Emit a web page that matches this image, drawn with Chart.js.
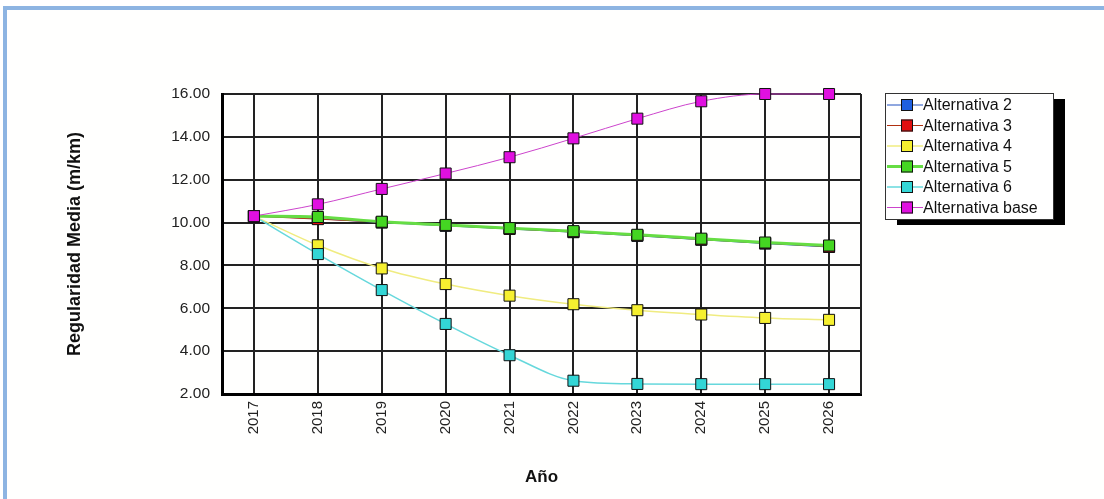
<!DOCTYPE html>
<html>
<head>
<meta charset="utf-8">
<script src="https://cdn.jsdelivr.net/npm/chart.js@4"></script>
<style>
  html, body { margin: 0; padding: 0; background: #fff; }
  #wrap { position: relative; width: 1104px; height: 499px; overflow: hidden; }
  #frame {
    position: absolute; left: 3px; top: 6px; width: 1200px; height: 600px;
    border-left: 4px solid #8db4e2; border-top: 4px solid #8db4e2;
    background: #fffffe;
  }
  #chart { position: absolute; left: 0; top: 0; }
</style>
</head>
<body>
<div id="wrap">
  <div id="frame"></div>
  <canvas id="chart" width="1104" height="499"></canvas>
</div>
<script>
// Años del periodo de análisis
const years = ['2017', '2018', '2019', '2020', '2021', '2022', '2023', '2024', '2025', '2026'];

// Regularidad media (m/km) por alternativa
const alt2 = [10.30, 10.18, 10.00, 9.85, 9.70, 9.55, 9.38, 9.20, 9.02, 8.86];
const alt3 = [10.30, 10.16, 10.02, 9.87, 9.71, 9.56, 9.40, 9.21, 9.04, 8.88];
const alt4 = [10.30, 8.94, 7.86, 7.13, 6.59, 6.19, 5.91, 5.71, 5.55, 5.46];
const alt5 = [10.30, 10.26, 10.04, 9.89, 9.74, 9.60, 9.43, 9.25, 9.07, 8.93];
const alt6 = [10.30, 8.53, 6.85, 5.27, 3.81, 2.62, 2.47, 2.46, 2.46, 2.46];
const altBase = [10.30, 10.85, 11.57, 12.29, 13.05, 13.93, 14.85, 15.66, 16.00, 16.00];

const seriesNames = ['Alternativa 2', 'Alternativa 3', 'Alternativa 4', 'Alternativa 5', 'Alternativa 6', 'Alternativa base'];
const seriesData = [alt2, alt3, alt4, alt5, alt6, altBase];
const markerColors = ['#1e5fe0', '#e01010', '#f6f030', '#44d622', '#33d6d6', '#e010e0'];
const lineColors = ['#2050c0', '#b03010', '#f0ec80', '#66dd44', '#66d8dc', '#cc44cc'];
const lineWidths = [1, 1, 1.5, 3, 1.5, 1];

const FONT = "'Liberation Sans', Arial, sans-serif";

// Marco derecho del área de trazado
function drawRightEdge(chart) {
    const {ctx, chartArea} = chart;
    ctx.save();
    ctx.strokeStyle = '#222';
    ctx.lineWidth = 2;
    ctx.beginPath();
    ctx.moveTo(chartArea.right, chartArea.top);
    ctx.lineTo(chartArea.right, chartArea.bottom);
    ctx.stroke();
    ctx.restore();
}
const frameRight = {
    id: 'frameRight',
    beforeDatasetsDraw(chart) { drawRightEdge(chart); }
};

// Leyenda con sombra negra
const boxLegend = {
    id: 'boxLegend',
    afterDraw(chart) {
        const ctx = chart.ctx;
        const x = 885, y = 93, w = 168, h = 126;
        ctx.save();
        ctx.fillStyle = '#000';
        ctx.fillRect(x + 12, y + 6, w, h);
        ctx.fillStyle = '#fff';
        ctx.fillRect(x, y, w, h);
        ctx.strokeStyle = '#333';
        ctx.lineWidth = 1;
        ctx.strokeRect(x + 0.5, y + 0.5, w, h);
        ctx.font = '16px ' + FONT;
        ctx.textBaseline = 'middle';
        chart.data.datasets.forEach((ds, i) => {
            const cy = y + 12 + i * 20.5;
            ctx.strokeStyle = ds.borderColor;
            ctx.lineWidth = ds.borderWidth;
            ctx.beginPath();
            ctx.moveTo(x + 2, cy);
            ctx.lineTo(x + 38, cy);
            ctx.stroke();
            ctx.fillStyle = ds.pointBackgroundColor;
            ctx.fillRect(x + 16, cy - 6, 12, 12);
            ctx.strokeStyle = '#111';
            ctx.lineWidth = 1;
            ctx.strokeRect(x + 16.5, cy - 5.5, 11, 11);
            ctx.fillStyle = '#111';
            ctx.fillText(ds.label, x + 38, cy + 1);
        });
        ctx.restore();
    }
};

const ctx = document.getElementById('chart').getContext('2d');
const chart = new Chart(ctx, {
    type: 'line',
    data: {
        labels: years,
        datasets: seriesNames.map((name, i) => ({
            label: name,
            data: seriesData[i],
            borderColor: lineColors[i],
            borderWidth: lineWidths[i],
            pointStyle: 'rect',
            pointRadius: 7.8,
            pointBackgroundColor: markerColors[i],
            pointBorderColor: '#111',
            pointBorderWidth: 1,
            cubicInterpolationMode: 'monotone',
            clip: false,
            order: seriesNames.length - i
        }))
    },
    options: {
        responsive: false,
        animation: false,
        layout: {
            padding: { top: 94, right: 243, left: 0, bottom: 0 }
        },
        plugins: {
            legend: { display: false },
            tooltip: { enabled: false }
        },
        scales: {
            x: {
                offset: true,
                afterFit: scale => { scale.height = 105; },
                grid: { color: '#222', lineWidth: 2, offset: false, drawTicks: false },
                border: { color: '#000', width: 3 },
                ticks: {
                    color: '#222',
                    font: { family: FONT, size: 15 },
                    minRotation: 90,
                    maxRotation: 90,
                    padding: 7
                },
                title: {
                    display: true,
                    text: 'Año',
                    color: '#111',
                    font: { family: FONT, size: 17, weight: 'bold' },
                    padding: { top: 0, bottom: 11 }
                }
            },
            y: {
                min: 2,
                max: 16,
                afterFit: scale => { scale.width = 222; },
                grid: { color: '#222', lineWidth: 2, drawTicks: false },
                border: { color: '#000', width: 3 },
                ticks: {
                    stepSize: 2,
                    color: '#222',
                    font: { family: FONT, size: 15.5 },
                    padding: 12,
                    callback: v => v.toFixed(2)
                },
                title: {
                    display: true,
                    text: 'Regularidad Media (m/km)',
                    color: '#111',
                    font: { family: FONT, size: 18, weight: 'bold' },
                    padding: { top: 64, bottom: 0 }
                }
            }
        }
    },
    plugins: [frameRight, boxLegend]
});
</script>
</body>
</html>
